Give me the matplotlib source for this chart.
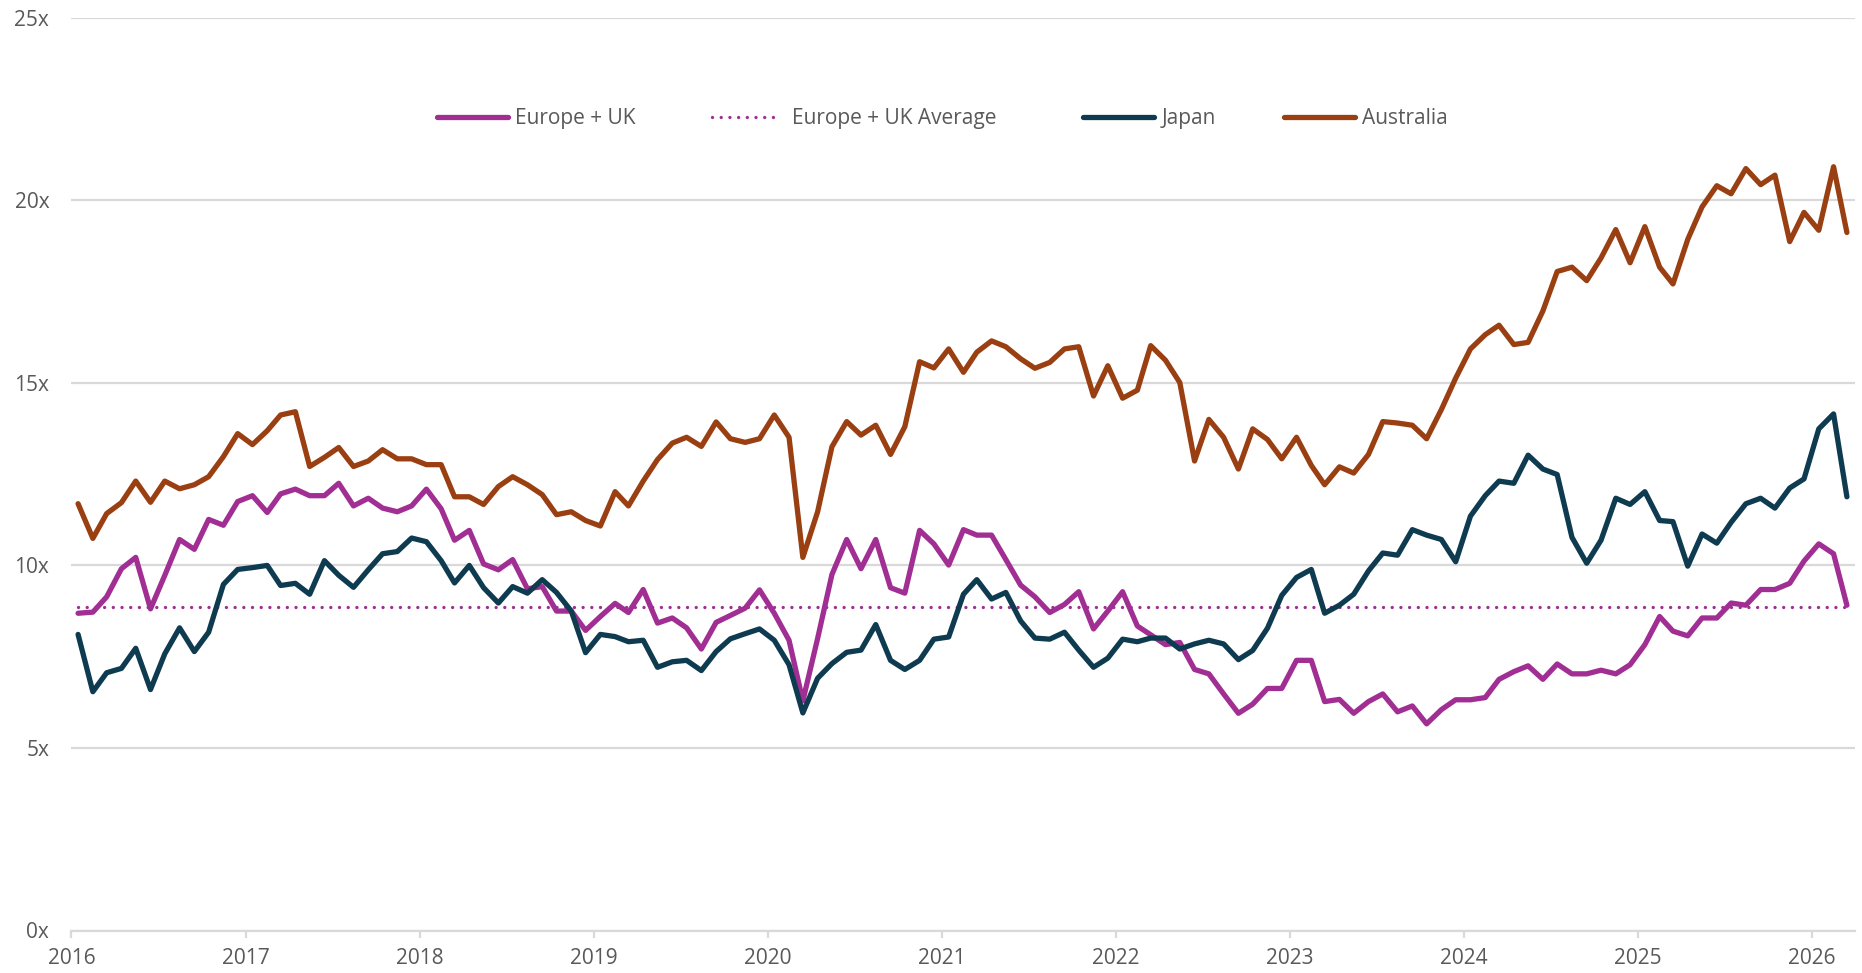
import matplotlib
matplotlib.use("Agg")
import matplotlib.pyplot as plt
from matplotlib.legend import Legend
import pandas as pd

# ---- data (monthly, Jan 2016 .. Mar 2026) ----
dates = pd.date_range("2016-01-01", periods=123, freq="MS") + pd.Timedelta(days=14)

europe_uk = [
    8.69, 8.72, 9.14, 9.91, 10.22, 8.81, 9.73, 10.71, 10.44, 11.26, 11.10, 11.75,
    11.91, 11.45, 11.96, 12.09, 11.91, 11.91, 12.25, 11.63, 11.84, 11.57, 11.47, 11.63,
    12.09, 11.55, 10.69, 10.96, 10.04, 9.88, 10.16,
    9.36, 9.42, 8.75, 8.75, 8.22, 8.60, 8.96, 8.71, 9.34, 8.42, 8.56, 8.29, 7.71,
    8.44, 8.63, 8.83, 9.33, 8.69, 7.95, 6.29, 8.00, 9.75, 10.71, 9.91, 10.71, 9.39,
    9.24, 10.96, 10.59, 10.01,
    10.98, 10.83, 10.83, 10.16, 9.46, 9.14, 8.71, 8.93, 9.28, 8.26, 8.75, 9.28, 8.34,
    8.10, 7.83, 7.89, 7.15, 7.03, 6.48, 5.95, 6.20, 6.63, 6.63, 7.40, 7.40, 6.27, 6.33,
    5.95, 6.27, 6.48, 5.99,
    6.15, 5.66, 6.05, 6.32, 6.32, 6.38, 6.88, 7.09, 7.25, 6.88, 7.30, 7.03, 7.03,
    7.13, 7.03, 7.28, 7.83, 8.60, 8.20, 8.07, 8.56, 8.56, 8.97, 8.91, 9.34, 9.34,
    9.51, 10.12, 10.59, 10.32, 8.91,
]
europe_uk_avg = 8.87

japan = [
    8.11, 6.54, 7.06, 7.18, 7.73, 6.60, 7.58, 8.29, 7.64, 8.17, 9.48, 9.89,
    9.94, 10.00, 9.45, 9.51, 9.21, 10.13, 9.73, 9.40, 9.88, 10.32, 10.38, 10.75,
    10.65, 10.13, 9.52, 10.00, 9.39, 8.97, 9.42,
    9.24, 9.61, 9.26, 8.75, 7.61, 8.11, 8.05, 7.91, 7.95, 7.21, 7.36, 7.40, 7.12,
    7.64, 7.99, 8.13, 8.26, 7.95, 7.28, 5.96, 6.91, 7.31, 7.62, 7.68, 8.38, 7.40,
    7.15, 7.40, 7.98, 8.04,
    9.21, 9.61, 9.08, 9.26, 8.48, 8.01, 7.98, 8.17, 7.68, 7.21, 7.46, 7.98, 7.91,
    8.01, 8.01, 7.71, 7.85, 7.95, 7.85, 7.42, 7.67, 8.28, 9.18, 9.67, 9.89, 8.69,
    8.91, 9.21, 9.85, 10.34, 10.28,
    10.98, 10.83, 10.71, 10.10, 11.35, 11.91, 12.31, 12.25, 13.02, 12.64, 12.49,
    10.77, 10.06, 10.69, 11.84, 11.67, 12.02, 11.23, 11.20, 9.98, 10.86, 10.61,
    11.18, 11.69, 11.84, 11.57, 12.12, 12.37, 13.74, 14.15, 11.88,
]

australia = [
    11.69, 10.74, 11.42, 11.72, 12.31, 11.73, 12.31, 12.10, 12.21, 12.43, 12.98, 13.61,
    13.31, 13.69, 14.12, 14.21, 12.71, 12.96, 13.23, 12.71, 12.86, 13.17, 12.92, 12.92,
    12.76, 12.76, 11.88, 11.88, 11.67, 12.16, 12.43,
    12.21, 11.94, 11.39, 11.47, 11.23, 11.08, 12.02, 11.63, 12.31, 12.90, 13.35,
    13.51, 13.26, 13.93, 13.47, 13.37, 13.47, 14.12, 13.51, 10.22, 11.47, 13.25,
    13.94, 13.57, 13.84, 13.04, 13.80, 15.58, 15.41, 15.93,
    15.29, 15.84, 16.15, 15.99, 15.66, 15.40, 15.56, 15.93, 15.99, 14.64, 15.47,
    14.58, 14.80, 16.02, 15.62, 15.01, 12.86, 14.00, 13.51, 12.64, 13.74, 13.45,
    12.92, 13.51, 12.74, 12.21, 12.70, 12.53, 13.04, 13.94, 13.90,
    13.84, 13.47, 14.27, 15.13, 15.93, 16.32, 16.58, 16.05, 16.11, 16.97, 18.05,
    18.17, 17.80, 18.42, 19.20, 18.29, 19.28, 18.17, 17.71, 18.93, 19.82, 20.40,
    20.18, 20.87, 20.43, 20.69, 18.87, 19.67, 19.18, 20.92, 19.12,
]

year_ticks = [str(y) for y in range(2016, 2027)]
y_ticks = [0, 5, 10, 15, 20, 25]

# ---- styling ----
C_EU = "#A12E92"
C_JP = "#0F3B50"
C_AU = "#9A3F12"
GRID = "#D9D9D9"
TXT = "#595959"
FS = 15

plt.rcParams["font.family"] = ["Open Sans", "DejaVu Sans"]

W, H = 1862, 973
X0, X1 = 71.4, 1855.0      # plot area, px
Y0, Y1 = 930.5, 17.8        # y=0 and y=25, px
fig = plt.figure(figsize=(W / 100, H / 100), dpi=100)
ax = fig.add_axes([X0 / W, (H - Y0) / H, (X1 - X0) / W, (Y0 - Y1) / H])

lw = 3.8
kw = dict(solid_capstyle="round", solid_joinstyle="round")
l_eu, = ax.plot(dates, europe_uk, color=C_EU, lw=lw, label="Europe + UK", zorder=4, **kw)
l_avg, = ax.plot(dates, [europe_uk_avg] * len(dates), color=C_EU, lw=2.4,
                 linestyle=(0, (0.01, 2.6)), dash_capstyle="round",
                 label="Europe + UK Average", zorder=3)
l_jp, = ax.plot(dates, japan, color=C_JP, lw=lw, label="Japan", zorder=4, **kw)
l_au, = ax.plot(dates, australia, color=C_AU, lw=lw, label="Australia", zorder=4, **kw)

ax.set_xlim(pd.Timestamp("2016-01-01"), pd.Timestamp("2026-04-01"))
ax.set_ylim(0, 25)

ax.set_xticks([pd.Timestamp(f"{y}-01-01") for y in year_ticks])
ax.set_xticklabels(year_ticks)
ax.set_yticks(y_ticks)
ax.set_yticklabels([f"{v}x" for v in y_ticks])

ax.grid(axis="y", color=GRID, lw=1.6, zorder=0)
ax.set_axisbelow(True)
for s in ["top", "right", "left"]:
    ax.spines[s].set_visible(False)
ax.spines["bottom"].set_color(GRID)
ax.spines["bottom"].set_linewidth(1.6)

ax.tick_params(axis="x", colors=GRID, length=5, width=1.6, labelcolor=TXT,
               labelsize=FS, pad=7.5)
ax.tick_params(axis="y", length=0, labelcolor=TXT, labelsize=FS, pad=16)

# legend: one entry per slot, placed like the reference
leg_y = (Y0 - 118.8) / (Y0 - Y1)
slots = [(l_eu, 437, 0.35, 3.4), (l_avg, 712, 0.85, 3.0),
         (l_jp, 1083, 0.35, 3.4), (l_au, 1284, 0.35, 3.4)]
for h, px, pad, hl in slots:
    lg = Legend(ax, [h], [h.get_label()], loc="center left",
                bbox_to_anchor=((px - X0) / (X1 - X0), leg_y),
                frameon=False, fontsize=FS, handlelength=hl,
                handletextpad=pad, borderpad=0, borderaxespad=0,
                labelcolor=TXT)
    ax.add_artist(lg)

fig.savefig("out.png", dpi=100, facecolor="white")
